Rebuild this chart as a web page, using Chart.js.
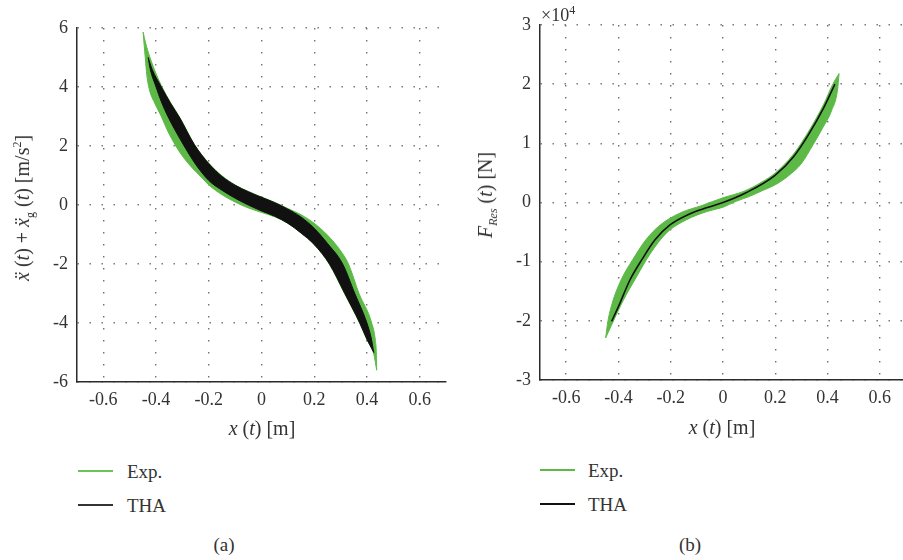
<!DOCTYPE html>
<html>
<head>
<meta charset="utf-8">
<title>Hysteresis loops: Exp. vs THA</title>
<script src="https://cdn.jsdelivr.net/npm/chart.js@4"></script>
<style>
html, body { margin: 0; padding: 0; width: 903px; height: 560px; overflow: hidden; background: #fff; }
body { position: relative; font-family: 'Liberation Serif', 'DejaVu Serif', serif; color: #333; }
.panel { position: absolute; top: 0; height: 440px; }
#panelA { left: 0; width: 460px; }
#panelB { left: 460px; width: 446px; }
.txt { position: absolute; white-space: nowrap; font-size: 19px; line-height: 1; }
.ytitle { transform: translate(-50%, -50%) rotate(-90deg); }
.center { transform: translate(-50%, -50%); }
.leg-line { position: absolute; width: 35px; height: 2px; }
.leg-text { position: absolute; font-size: 19px; line-height: 1; transform: translateY(-50%); }
sub, sup { font-size: 12px; line-height: 0; }
</style>
</head>
<body>

<div class="panel" id="panelA"><canvas id="chartA" width="460" height="440"></canvas></div>
<div class="panel" id="panelB"><canvas id="chartB" width="446" height="440"></canvas></div>

<!-- axis titles -->
<div class="txt ytitle" style="left:22px; top:208px; font-size:20px;"><i>x&#776;</i> (<i>t</i>) + <i>x&#776;</i><sub>g</sub> (<i>t</i>) [m/s<sup>2</sup>]</div>
<div class="txt center" style="left:262px; top:428px; font-size:20px;"><i>x</i> (<i>t</i>) [m]</div>
<div class="txt ytitle" style="left:485px; top:195px; font-size:20px;"><i>F</i><sub><i>Res</i></sub> (<i>t</i>) [N]</div>
<div class="txt center" style="left:722px; top:427px; font-size:20px;"><i>x</i> (<i>t</i>) [m]</div>
<div class="txt" style="left:541px; top:6px; font-size:18px;">&times;10<sup>4</sup></div>

<!-- legends -->
<div class="leg-line" style="left:78px; top:470px; background:#6cc356;"></div>
<div class="leg-text" style="left:127px; top:471px;">Exp.</div>
<div class="leg-line" style="left:78px; top:504px; background:#333;"></div>
<div class="leg-text" style="left:127px; top:505px;">THA</div>

<div class="leg-line" style="left:540px; top:469px; background:#5cb946;"></div>
<div class="leg-text" style="left:588px; top:470px;">Exp.</div>
<div class="leg-line" style="left:540px; top:503px; background:#111;"></div>
<div class="leg-text" style="left:588px; top:504px;">THA</div>

<div class="txt center" style="left:224px; top:544px;">(a)</div>
<div class="txt center" style="left:690px; top:544px;">(b)</div>

<script>
// Tick values
const xTicks = [-0.6, -0.4, -0.2, 0, 0.2, 0.4, 0.6];
const yTicksA = [-6, -4, -2, 0, 2, 4, 6];
const yTicksB = [-30000, -20000, -10000, 0, 10000, 20000, 30000];

// (a) acceleration vs displacement, THA band edges [m, m/s2]
const thaAHiX = [-0.43, -0.415, -0.38, -0.345, -0.31, -0.255, -0.2, -0.15, -0.1, -0.05, 0, 0.05, 0.1, 0.15, 0.2, 0.25, 0.308, 0.354, 0.4, 0.416, 0.426];
const thaAHiY = [5.0, 4.6, 4.0, 3.45, 2.95, 2.05, 1.4, 0.97, 0.67, 0.45, 0.26, 0.08, -0.14, -0.41, -0.79, -1.3, -2.0, -3.0, -4.0, -4.5, -5.0];
const thaALoX = [-0.43, -0.422, -0.4, -0.38, -0.355, -0.3, -0.25, -0.2, -0.15, -0.1, -0.05, 0, 0.05, 0.1, 0.15, 0.2, 0.258, 0.316, 0.373, 0.4, 0.426];
const thaALoY = [5.0, 4.6, 4.0, 3.5, 3.0, 2.1, 1.38, 0.83, 0.5, 0.23, 0.0, -0.2, -0.38, -0.62, -0.95, -1.34, -2.0, -3.0, -4.0, -4.55, -5.0];

// (a) experimental band edges
const expAUpX = [-0.449, -0.44, -0.423, -0.4, -0.38, -0.345, -0.31, -0.255, -0.2, -0.15, -0.1, -0.05, 0, 0.05, 0.1, 0.15, 0.2, 0.25, 0.3, 0.33, 0.37, 0.418, 0.432, 0.436, 0.437];
const expAUpY = [5.86, 5.5, 5.0, 4.45, 4.05, 3.47, 2.97, 2.06, 1.42, 0.99, 0.68, 0.46, 0.27, 0.09, -0.12, -0.33, -0.62, -1.02, -1.55, -2.0, -3.0, -4.0, -4.6, -5.1, -5.6];
const expALoX = [-0.449, -0.445, -0.441, -0.435, -0.425, -0.405, -0.38, -0.358, -0.325, -0.295, -0.262, -0.229, -0.2, -0.15, -0.1, -0.05, 0, 0.05, 0.1, 0.15, 0.2, 0.258, 0.316, 0.373, 0.4, 0.426, 0.437];
const expALoY = [5.86, 5.4, 5.0, 4.4, 3.9, 3.45, 3.0, 2.55, 2.0, 1.6, 1.25, 0.95, 0.68, 0.35, 0.1, -0.1, -0.25, -0.4, -0.62, -0.95, -1.34, -2.02, -3.02, -4.02, -4.57, -5.05, -5.6];

// (b) restoring force vs displacement [m, N]
const thaBX = [-0.426, -0.4, -0.356, -0.311, -0.26, -0.203, -0.126, -0.06, 0, 0.09, 0.199, 0.269, 0.326, 0.384, 0.428];
const thaBY = [-20100, -17600, -13100, -9700, -6300, -3800, -1900, -850, 0, 1700, 4600, 7700, 11400, 15900, 20000];

const expBUpX = [-0.449, -0.44, -0.425, -0.39, -0.346, -0.295, -0.24, -0.16, -0.08, 0, 0.08, 0.15, 0.2, 0.27, 0.33, 0.385, 0.42, 0.444];
const expBUpY = [-22900, -20000, -17200, -13100, -9700, -6300, -3800, -1700, -500, 800, 1900, 3500, 5000, 8200, 12200, 16600, 20000, 21800];
const expBLoX = [-0.449, -0.42, -0.381, -0.33, -0.279, -0.215, -0.139, -0.06, 0, 0.05, 0.1, 0.15, 0.2, 0.25, 0.3, 0.345, 0.38, 0.416, 0.438, 0.444];
const expBLoY = [-22900, -20100, -16500, -12500, -8700, -5100, -2900, -1500, -800, 200, 1000, 2000, 3000, 4500, 6600, 9800, 12500, 15600, 19000, 21800];

const GREEN = '#5cb946';
const BLACK = '#111111';
const serif = 'Liberation Serif, DejaVu Serif, serif';

Chart.defaults.font.family = serif;
Chart.defaults.color = '#333';

const pts = (xs, ys) => xs.map((x, i) => ({ x: x, y: ys[i] }));

function edge(xs, ys, color, fill) {
    return {
        data: pts(xs, ys),
        showLine: true,
        pointRadius: 0,
        borderColor: color,
        backgroundColor: color,
        borderWidth: 1,
        cubicInterpolationMode: 'monotone',
        fill: fill
    };
}

// Shared axis setup
function makeScales(yMin, yMax, yTicks, yWidth, xHeight, yLabel) {
    const grid = { color: '#707070', lineWidth: 1.4, drawTicks: false };
    const border = { display: true, color: '#2b2b2b', width: 1.5, dash: [1.4, 10.6] };
    const font = { family: serif, size: 18 };
    return {
        x: {
            type: 'linear', min: -0.7, max: 0.7,
            afterBuildTicks: s => { s.ticks = xTicks.map(v => ({ value: v })); },
            afterFit: s => { s.height = xHeight; },
            grid: grid, border: border,
            ticks: { font: font, color: '#333', padding: 7, autoSkip: false, maxRotation: 0, callback: v => String(v) }
        },
        y: {
            type: 'linear', min: yMin, max: yMax,
            afterBuildTicks: s => { s.ticks = yTicks.map(v => ({ value: v })); },
            afterFit: s => { s.width = yWidth; },
            grid: grid, border: border,
            ticks: { font: font, color: '#333', padding: 9, autoSkip: false, callback: yLabel }
        }
    };
}

const baseOptions = {
    responsive: false,
    animation: false,
    events: [],
    plugins: { legend: { display: false }, tooltip: { enabled: false } }
};

// Chart (a)
new Chart(document.getElementById('chartA'), {
    type: 'scatter',
    data: {
        datasets: [
            edge(thaAHiX, thaAHiY, BLACK, '+1'),
            edge(thaALoX, thaALoY, BLACK, false),
            edge(expAUpX, expAUpY, GREEN, '+1'),
            edge(expALoX, expALoY, GREEN, false)
        ]
    },
    options: Object.assign({}, baseOptions, {
        layout: { padding: { top: 28, right: 14, left: 0, bottom: 0 } },
        scales: makeScales(-6, 6, yTicksA, 77, 58, v => String(v))
    })
});

// Chart (b)
const thaLine = edge(thaBX, thaBY, BLACK, false);
thaLine.borderWidth = 1.6;
new Chart(document.getElementById('chartB'), {
    type: 'scatter',
    data: {
        datasets: [
            thaLine,
            edge(expBUpX, expBUpY, GREEN, '+1'),
            edge(expBLoX, expBLoY, GREEN, false)
        ]
    },
    options: Object.assign({}, baseOptions, {
        layout: { padding: { top: 25, right: 0, left: 0, bottom: 0 } },
        scales: makeScales(-30000, 30000, yTicksB, 80, 60, v => String(v / 10000))
    })
});
</script>
</body>
</html>
